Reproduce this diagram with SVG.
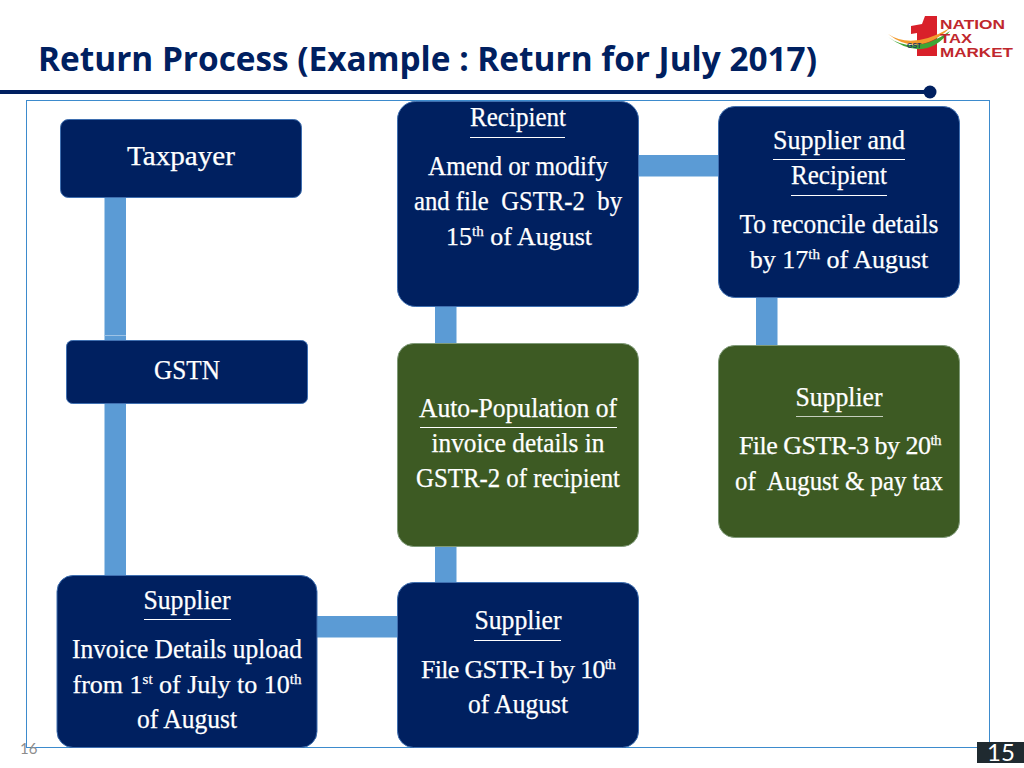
<svg xmlns="http://www.w3.org/2000/svg" width="1024" height="768" viewBox="0 0 1024 768">
<style>
.n{fill:#002060;stroke:#3f6fb0;stroke-width:1}
.g{fill:#3d5a23;stroke:#7f9a78;stroke-width:1}
.t{font-family:"Liberation Serif",serif;font-size:27px;fill:#fff;stroke:#fff;stroke-width:.25;text-anchor:middle;white-space:pre}
.p{font-size:26px}
.u{stroke:#fff;stroke-width:1}
.c{fill:#5b9bd5}
.s{font-size:15px}
.l{font-family:"Liberation Sans",sans-serif;font-weight:bold;font-size:13.500px;fill:#c0272d}
</style>
<rect width="1024" height="768" fill="#fff"/>
<g id="header">
<text x="38" y="71" font-family="Open Sans,sans-serif" font-weight="700" font-size="34" fill="#002060" textLength="779" lengthAdjust="spacingAndGlyphs">Return Process (Example : Return for July 2017)</text>
<rect x="0" y="90" width="930" height="4" fill="#002060"/>
<circle cx="930" cy="92" r="6.500" fill="#002060"/>
</g>
<g id="logo">
<path d="M911 26 L922 24 L925 16 L937 16 L937 56 L917 56 L917 33 L911 34 Z" fill="#d9202a"/>
<path d="M888 34 Q912 50 950 28 Q918 58 888 34 Z" fill="#f39a2d"/>
<path d="M888 37 Q915 56 950 31 Q925 64 888 37 Z" fill="#3fa535"/>
<text x="907" y="48" font-family="Liberation Sans,sans-serif" font-weight="bold" font-size="7" fill="#1f3864">GST</text>
<text class="l" x="940" y="29" textLength="65" lengthAdjust="spacingAndGlyphs">NATION</text>
<text class="l" x="940" y="43" textLength="32" lengthAdjust="spacingAndGlyphs">TAX</text>
<text class="l" x="940" y="56.500" textLength="73" lengthAdjust="spacingAndGlyphs">MARKET</text>
</g>
<rect id="frame" x="26.500" y="100.500" width="963" height="647" fill="none" stroke="#3d8bcd" stroke-width="1"/>
<g id="connectors">
<rect class="c" x="104.500" y="196" width="21.500" height="146"/>
<rect x="104.500" y="335" width="21.500" height="1" fill="#9dc3e6"/>
<rect class="c" x="104.500" y="402" width="21.500" height="175"/>
<rect class="c" x="316" y="616" width="83" height="21.500"/>
<rect class="c" x="435" y="545" width="21.500" height="39"/>
<rect class="c" x="435" y="305" width="21.500" height="40"/>
<rect class="c" x="637" y="155" width="83" height="21.500"/>
<rect class="c" x="756" y="297" width="21.500" height="50"/>
</g>
<g id="taxpayer">
<rect class="n" x="60.500" y="119.500" width="241" height="78" rx="8"/>
<text class="t" x="181" y="165" textLength="108" lengthAdjust="spacingAndGlyphs">Taxpayer</text>
</g>
<g id="gstn">
<rect class="n" x="66.500" y="340.500" width="241" height="63" rx="6"/>
<text class="t" x="187" y="379" textLength="66" lengthAdjust="spacingAndGlyphs">GSTN</text>
</g>
<g id="supplier-invoice">
<rect class="n" x="57" y="575.500" width="260" height="172" rx="16"/>
<text class="t" x="187" y="609" textLength="87" lengthAdjust="spacingAndGlyphs">Supplier</text>
<line class="u" x1="144" y1="619.500" x2="231" y2="619.500"/>
<text class="t" x="187" y="658" textLength="230" lengthAdjust="spacingAndGlyphs">Invoice Details upload</text>
<text class="t p" x="187" y="693">from 1<tspan class="s" dy="-9">st</tspan><tspan dy="9"> of July to 10</tspan><tspan class="s" dy="-9">th</tspan></text>
<text class="t" x="187" y="728" textLength="100" lengthAdjust="spacingAndGlyphs">of August</text>
</g>
<g id="supplier-gstr1">
<rect class="n" x="397.500" y="582.500" width="241" height="165" rx="16"/>
<text class="t" x="518" y="629" textLength="87" lengthAdjust="spacingAndGlyphs">Supplier</text>
<line class="u" x1="474" y1="640.500" x2="561" y2="640.500"/>
<text class="t p" x="518" y="678" letter-spacing="-.7">File GSTR-I by 10<tspan class="s" dy="-9">th</tspan></text>
<text class="t" x="518" y="713" textLength="100" lengthAdjust="spacingAndGlyphs">of August</text>
</g>
<g id="auto-population">
<rect class="g" x="397.500" y="343.500" width="241" height="203" rx="16"/>
<text class="t" x="518" y="417" textLength="198" lengthAdjust="spacingAndGlyphs">Auto-Population of</text>
<line class="u" x1="420" y1="427.500" x2="617" y2="427.500"/>
<text class="t" x="518" y="452" textLength="173" lengthAdjust="spacingAndGlyphs">invoice details in</text>
<text class="t" x="518" y="487" textLength="204" lengthAdjust="spacingAndGlyphs">GSTR-2 of recipient</text>
</g>
<g id="recipient">
<rect class="n" x="397.500" y="101.500" width="241" height="205" rx="18"/>
<text class="t" x="518" y="126" textLength="96" lengthAdjust="spacingAndGlyphs">Recipient</text>
<line class="u" x1="470" y1="137.500" x2="565" y2="137.500"/>
<text class="t" x="518" y="175" textLength="180" lengthAdjust="spacingAndGlyphs">Amend or modify</text>
<text class="t" x="518" y="210" textLength="208" lengthAdjust="spacingAndGlyphs">and file  GSTR-2  by</text>
<text class="t p" x="519" y="245">15<tspan class="s" dy="-9">th</tspan><tspan dy="9"> of August</tspan></text>
</g>
<g id="supplier-recipient">
<rect class="n" x="718.500" y="106.500" width="241" height="191" rx="16"/>
<text class="t" x="839" y="149" textLength="132" lengthAdjust="spacingAndGlyphs">Supplier and</text>
<line class="u" x1="773" y1="159.500" x2="905" y2="159.500"/>
<text class="t" x="839" y="184" textLength="96" lengthAdjust="spacingAndGlyphs">Recipient</text>
<line class="u" x1="791" y1="195.500" x2="887" y2="195.500"/>
<text class="t" x="839" y="233" textLength="199" lengthAdjust="spacingAndGlyphs">To reconcile details</text>
<text class="t p" x="839" y="268">by 17<tspan class="s" dy="-9">th</tspan><tspan dy="9"> of August</tspan></text>
</g>
<g id="supplier-gstr3">
<rect class="g" x="718.500" y="345.500" width="241" height="192" rx="16"/>
<text class="t" x="839" y="406" textLength="87" lengthAdjust="spacingAndGlyphs">Supplier</text>
<line class="u" x1="796" y1="416.500" x2="883" y2="416.500" opacity=".7"/>
<text class="t p" x="840" y="454" letter-spacing="-.5">File GSTR-3 by 20<tspan class="s" dy="-9">th</tspan></text>
<text class="t" x="839" y="490" textLength="208" lengthAdjust="spacingAndGlyphs">of  August &amp; pay tax</text>
</g>
<text id="page-left" x="20" y="754" font-family="Lato,sans-serif" font-size="15" fill="#8c8c8c">16</text>
<g id="page">
<rect x="977" y="742" width="47" height="21" fill="#1f2a30"/>
<text x="1001" y="761" font-family="Lato,sans-serif" font-size="24" fill="#fff" text-anchor="middle">15</text>
</g>
</svg>
